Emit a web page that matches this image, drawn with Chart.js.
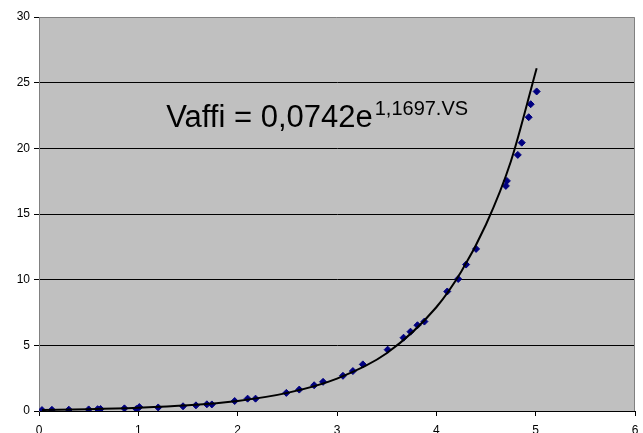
<!DOCTYPE html>
<html>
<head>
<meta charset="utf-8">
<script src="https://cdn.jsdelivr.net/npm/chart.js@4"></script>
<style>
  html, body { margin: 0; padding: 0; background: #fff; overflow: hidden; }
  #wrap { width: 643px; height: 445px; }
</style>
</head>
<body>
<div id="wrap"><canvas id="vaffiChart" width="643" height="445"></canvas></div>
<script>
// measured points, VS on x, Vaffi on y
const vsValues = [0.03, 0.13, 0.30, 0.50, 0.59, 0.62, 0.86, 0.98, 1.01, 1.20,
  1.45, 1.58, 1.69, 1.74, 1.97, 2.10, 2.18, 2.49, 2.62, 2.77,
  2.86, 3.06, 3.16, 3.26, 3.51, 3.67, 3.74, 3.81, 3.88, 4.11,
  4.22, 4.30, 4.40, 4.70, 4.71, 4.82, 4.86, 4.93, 4.95, 5.01]
const vaffiValues = [0.07, 0.09, 0.10, 0.12, 0.14, 0.15, 0.20, 0.15, 0.30, 0.27,
  0.36, 0.43, 0.51, 0.50, 0.76, 0.94, 0.94, 1.38, 1.63, 1.96,
  2.22, 2.68, 3.04, 3.55, 4.67, 5.58, 6.04, 6.53, 6.81, 9.10,
  10.05, 11.15, 12.34, 17.14, 17.52, 19.50, 20.43, 22.37, 23.36, 24.33]

// trendline
const trendX = [0.03, 0.5, 1, 1.5, 2, 2.5, 3, 3.5, 4, 4.25, 4.5, 4.75, 5.01]
const trendY = [0.08, 0.13, 0.24, 0.43, 0.77, 1.38, 2.47, 4.4, 7.9, 10.6, 14.2, 19.0, 26.1]

const xTicks = [0, 1, 2, 3, 4, 5, 6]
const yTicks = [0, 5, 10, 15, 20, 25, 30]
const equationMain = 'Vaffi = 0,0742e'
const equationExp = '1,1697.VS'

const points = vsValues.map((x, i) => ({ x: x, y: vaffiValues[i] }))
const trend = trendX.map((x, i) => ({ x: x, y: trendY[i] }))

const FONT = "Arial, 'Liberation Sans', sans-serif"

const plotBg = {
  id: 'plotBg',
  beforeDraw(chart) {
    const { ctx, chartArea: a } = chart
    ctx.save()
    ctx.fillStyle = '#fff'
    ctx.fillRect(0, 0, chart.width, chart.height)
    ctx.fillStyle = '#c0c0c0'
    ctx.fillRect(a.left, a.top, a.right - a.left, a.bottom - a.top)
    ctx.restore()
  },
  afterDatasetsDraw(chart) {
    const { ctx, chartArea: a, scales } = chart
    ctx.save()
    // plot area border top + right
    ctx.strokeStyle = '#808080'
    ctx.lineWidth = 1
    ctx.beginPath()
    ctx.moveTo(a.left, a.top + 0.5)
    ctx.lineTo(a.right - 0.5, a.top + 0.5)
    ctx.lineTo(a.right - 0.5, a.bottom)
    ctx.stroke()
    // equation label
    const tx = scales.x.getPixelForValue(1.28)
    const ty = scales.y.getPixelForValue(21.6)
    ctx.fillStyle = '#000'
    ctx.textBaseline = 'alphabetic'
    ctx.font = '31px ' + FONT
    ctx.fillText(equationMain, tx, ty)
    const w = ctx.measureText(equationMain).width
    ctx.font = '20px ' + FONT
    ctx.fillText(equationExp, tx + w + 2, ty - 12)
    ctx.restore()
  }
}

const vctx = document.getElementById('vaffiChart').getContext('2d')
const vaffiChart = new Chart(vctx, {
  type: 'scatter',
  data: {
    datasets: [{
      label: 'Trend',
      data: trend,
      showLine: true,
      borderColor: '#000',
      borderWidth: 2,
      pointRadius: 0,
      cubicInterpolationMode: 'monotone',
      order: 0
    }, {
      label: 'Vaffi',
      data: points,
      pointStyle: 'rectRot',
      pointRadius: 3.5,
      backgroundColor: '#000080',
      borderColor: '#000080',
      borderWidth: 1,
      order: 1
    }]
  },
  options: {
    responsive: false,
    animation: false,
    layout: { padding: { top: 17, right: 8, left: 0, bottom: 0 } },
    plugins: {
      legend: { display: false },
      tooltip: { enabled: false }
    },
    scales: {
      x: {
        type: 'linear',
        min: 0,
        max: 6,
        afterBuildTicks: (s) => { s.ticks = xTicks.map(v => ({ value: v })) },
        afterFit: (s) => { s.height = 34; s.paddingRight = 0; s.paddingLeft = 0 },
        ticks: { color: '#000', font: { family: FONT, size: 12 }, padding: 7, maxRotation: 0 },
        grid: { color: 'rgba(0,0,0,0)', tickColor: '#000', tickLength: 5, drawTicks: true },
        border: { color: '#000', width: 1 }
      },
      y: {
        type: 'linear',
        min: 0,
        max: 30,
        afterBuildTicks: (s) => { s.ticks = yTicks.map(v => ({ value: v })) },
        afterFit: (s) => { s.width = 39; s.paddingTop = 0; s.paddingBottom = 0 },
        ticks: { color: '#000', font: { family: FONT, size: 12 }, padding: 4 },
        grid: {
          color: (c) => (c.tick && (c.tick.value === 30 || c.tick.value === 0)) ? 'rgba(0,0,0,0)' : '#000',
          tickColor: '#000',
          tickLength: 5
        },
        border: { color: '#808080', width: 1 }
      }
    }
  },
  plugins: [plotBg]
})
</script>
</body>
</html>
